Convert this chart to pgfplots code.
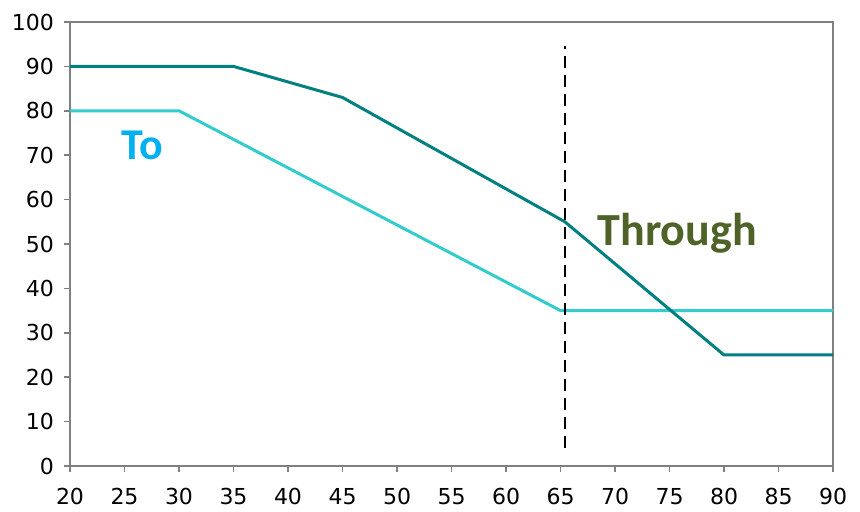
\documentclass[border=0pt]{standalone}
\usepackage{fontspec}
\setmainfont{DejaVu Sans}
\newfontfamily\calfont{Carlito}
\usepackage{pgfplots}
\pgfplotsset{compat=1.18}
\definecolor{darkteal}{HTML}{008080}
\definecolor{lightteal}{HTML}{33CCCC}
\definecolor{tocol}{HTML}{00B0F0}
\definecolor{thrucol}{HTML}{4F6228}
\definecolor{axgray}{HTML}{808080}
\begin{document}
\begin{tikzpicture}
\begin{axis}[
  scale only axis,
  width=381.5pt, height=222pt,
  xmin=20, xmax=90, ymin=0, ymax=100,
  xtick={20,25,...,90}, ytick={0,10,...,100},
  tick align=outside, xtick pos=bottom, ytick pos=left,
  major tick length=3pt,
  axis line style={axgray, line width=0.8pt},
  every tick/.style={axgray, line width=0.8pt},
  tick label style={font=\fontsize{11}{13}\selectfont, text=black},
  /pgf/number format/assume math mode=true,
  xticklabel style={yshift=-4.5pt},
  yticklabel style={xshift=-1.5pt},
  clip=false,
]
\addplot[lightteal, line width=1.5pt] coordinates {(20,80) (30,80) (65,35) (90,35)};
\addplot[darkteal, line width=1.5pt] coordinates {(20,90) (35,90) (45,83) (65.4,55) (80,25) (90,25)};
\addplot[black, line width=1.2pt, dash pattern=on 6pt off 3.5pt] coordinates {(65.4,4) (65.4,94.5)};
\node[font=\calfont\bfseries\fontsize{22}{26}\selectfont, text=tocol] at (axis cs:26.6,72.3) {To};
\node[font=\calfont\bfseries\fontsize{23}{27}\selectfont, text=thrucol] at (axis cs:75.7,52.5) {Through};
\coordinate (bl) at (rel axis cs:0,0);
\coordinate (tr) at (rel axis cs:1,1);
\end{axis}
\pgfresetboundingbox
\path (bl) ++(-35pt,-23pt) coordinate (a);
\path (tr) ++(13.5pt,11pt) coordinate (b);
\path[use as bounding box] (a) rectangle (b);
\end{tikzpicture}
\end{document}
